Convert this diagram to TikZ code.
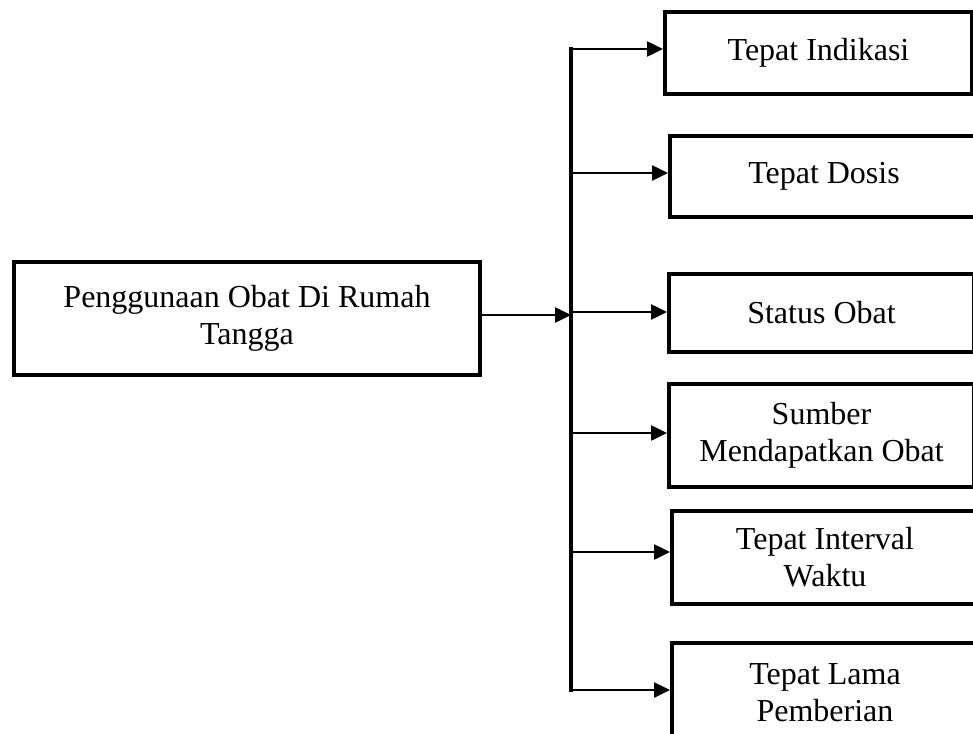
\documentclass[tikz,border=0pt]{standalone}
\usepackage{fontspec}
\setmainfont{Liberation Serif}
\usetikzlibrary{arrows.meta}
\begin{document}
\begin{tikzpicture}[x=1pt,y=-1pt,
  box/.style={draw,line width=4pt,inner sep=0pt,anchor=north west,align=center,
    font=\fontsize{32}{37}\selectfont},
  arr/.style={line width=2.5pt,-{Triangle[length=16pt,width=15pt]}},
  spine/.style={line width=3.5pt}]
\useasboundingbox (0,0) rectangle (973,733);
\node[box,minimum width=466pt,minimum height=113pt] (main) at (12,260) {Penggunaan Obat Di Rumah\\Tangga};
\node[box,minimum width=307pt,minimum height=82pt] (b1) at (663,10) {\raisebox{8pt}{Tepat Indikasi}};
\node[box,minimum width=308pt,minimum height=81pt] (b2) at (668,134) {Tepat Dosis};
\node[box,minimum width=305pt,minimum height=78pt] (b3) at (667,272) {Status Obat};
\node[box,minimum width=305pt,minimum height=103pt] (b4) at (667,382) {Sumber\\Mendapatkan Obat};
\node[box,minimum width=306pt,minimum height=93pt] (b5) at (670,509) {Tepat Interval\\Waktu};
\node[box,minimum width=306pt,minimum height=100pt] (b6) at (670,641) {Tepat Lama\\Pemberian};
\coordinate (top) at (571,47);
\coordinate (bot) at (571,692);
\draw[spine] (top) -- (bot);
\coordinate (s0) at (571,315);
\coordinate (s1) at (571,49);
\coordinate (s2) at (571,173);
\coordinate (s3) at (571,312);
\coordinate (s4) at (571,433);
\coordinate (s5) at (571,552);
\coordinate (s6) at (571,690);
\draw[arr] (main.east |- s0) -- (s0);
\draw[arr] (s1) -- (s1 -| b1.west);
\draw[arr] (s2) -- (s2 -| b2.west);
\draw[arr] (s3) -- (s3 -| b3.west);
\draw[arr] (s4) -- (s4 -| b4.west);
\draw[arr] (s5) -- (s5 -| b5.west);
\draw[arr] (s6) -- (s6 -| b6.west);
\end{tikzpicture}
\end{document}
